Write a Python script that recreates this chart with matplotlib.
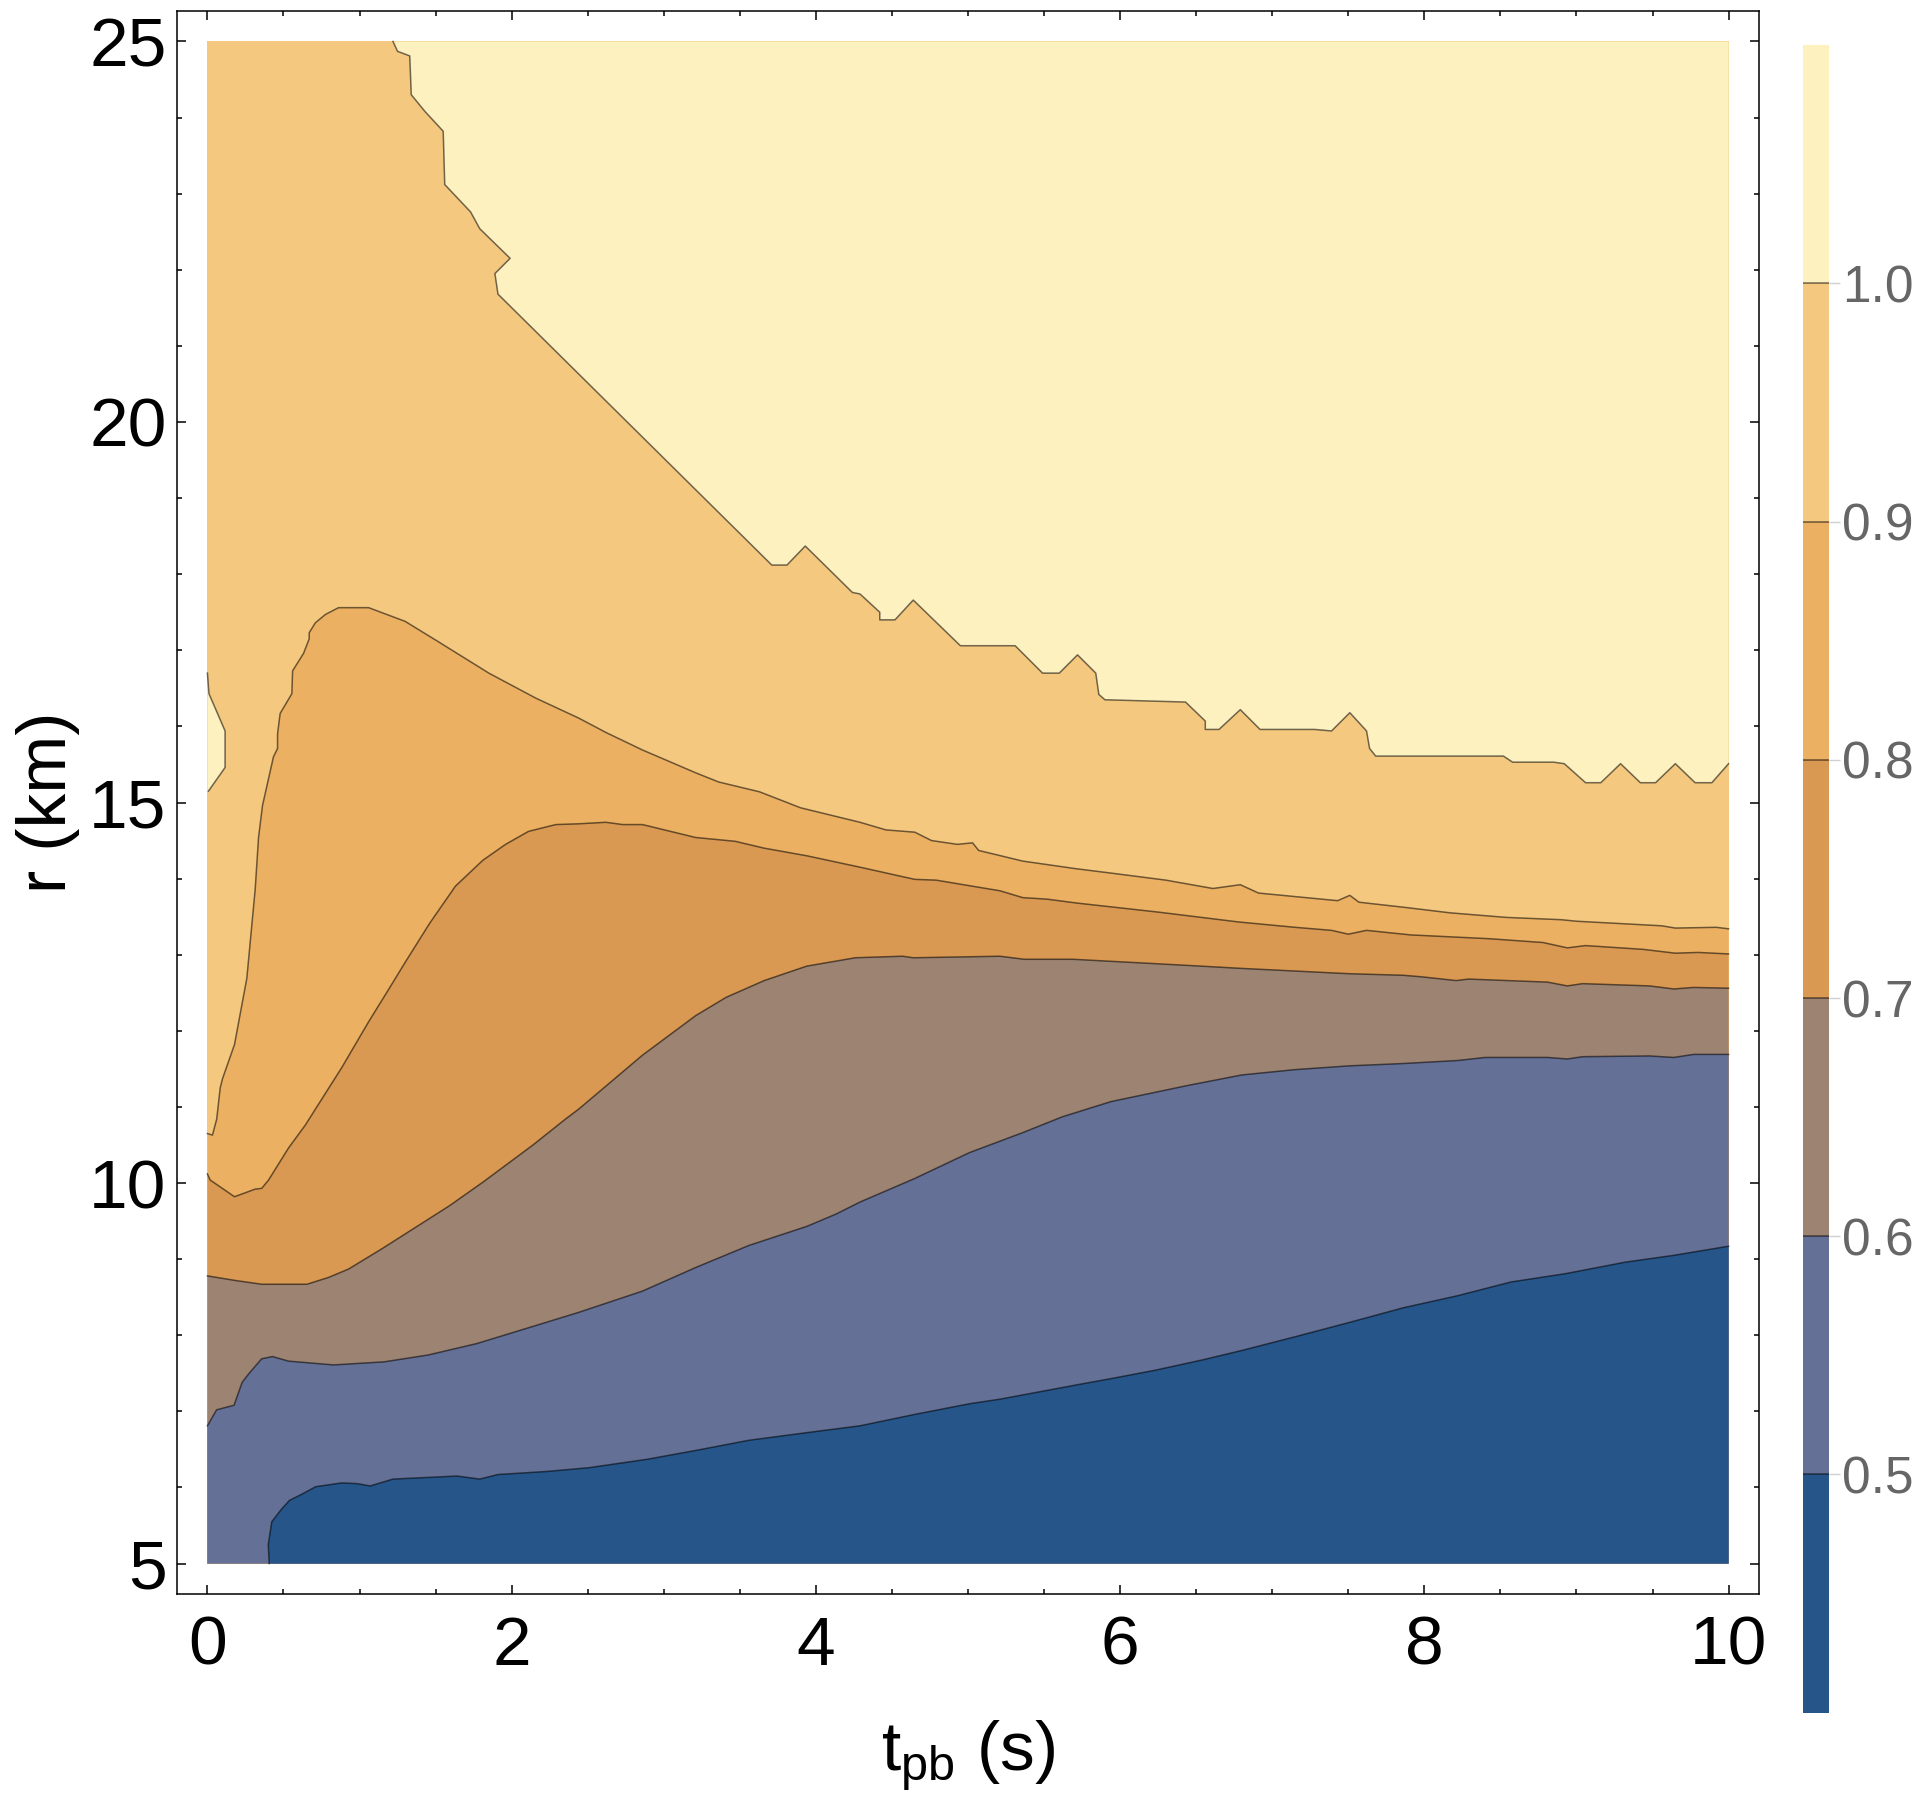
import matplotlib
matplotlib.use('Agg')
import matplotlib.pyplot as plt
from matplotlib.colors import ListedColormap, BoundaryNorm
from matplotlib.cm import ScalarMappable

plt.rcParams['font.family'] = ['Liberation Sans', 'DejaVu Sans']
plt.rcParams['mathtext.fontset'] = 'custom'
plt.rcParams['mathtext.rm'] = 'Liberation Sans'

# contour levels and band colours (lowest band first)
levels = [0.4, 0.5, 0.6, 0.7, 0.8, 0.9, 1.0, 1.1]
band_colors = ['#255589', '#647096', '#9d8372', '#d99952',
               '#ecb062', '#f5c87f', '#fdf1c0']

# contour lines: t_pb (s), r (km)
t_10 = [1.22, 1.25, 1.33, 1.34, 1.43, 1.55, 1.56, 1.73, 1.79, 1.99, 1.89, 1.91,
        3.71, 3.81, 3.93, 4.24, 4.29, 4.42, 4.42, 4.52, 4.64, 4.95, 5.31, 5.49,
        5.60, 5.72, 5.84, 5.86, 5.90, 6.43, 6.56, 6.56, 6.65, 6.79, 6.92, 7.28,
        7.39, 7.51, 7.62, 7.64, 7.68, 8.52, 8.58, 8.85, 8.92, 9.06, 9.16, 9.29,
        9.42, 9.52, 9.65, 9.78, 9.89, 10.0]
r_10 = [25.0, 24.87, 24.81, 24.30, 24.08, 23.82, 23.12, 22.76, 22.54, 22.15, 21.95, 21.68,
        18.12, 18.12, 18.37, 17.76, 17.74, 17.50, 17.40, 17.40, 17.66, 17.06, 17.06, 16.70,
        16.70, 16.94, 16.70, 16.42, 16.35, 16.32, 16.07, 15.96, 15.96, 16.22, 15.96, 15.96,
        15.94, 16.18, 15.94, 15.71, 15.61, 15.61, 15.53, 15.53, 15.51, 15.26, 15.26, 15.51,
        15.26, 15.26, 15.51, 15.26, 15.26, 15.51]

t_10_pocket = [0.0, 0.01, 0.116, 0.116, 0.007, 0.0]
r_10_pocket = [16.70, 16.43, 15.94, 15.46, 15.15, 15.15]

t_09 = [0.0, 0.033, 0.061, 0.084, 0.099, 0.178, 0.259, 0.314, 0.336, 0.362, 0.434, 0.461,
        0.461, 0.478, 0.555, 0.56, 0.632, 0.669, 0.669, 0.709, 0.775, 0.862, 1.06, 1.30,
        1.52, 1.85, 2.16, 2.44, 2.62, 2.86, 3.21, 3.36, 3.63, 3.90, 4.29, 4.46, 4.65,
        4.76, 4.93, 5.03, 5.07, 5.36, 5.71, 5.95, 6.30, 6.61, 6.79, 6.91, 7.43, 7.51,
        7.57, 7.88, 8.17, 8.54, 8.90, 9.0, 9.56, 9.65, 9.92, 10.0]
r_09 = [10.65, 10.63, 10.84, 11.25, 11.37, 11.82, 12.69, 13.86, 14.54, 14.96, 15.60, 15.71,
        15.90, 16.17, 16.43, 16.73, 16.96, 17.15, 17.23, 17.36, 17.47, 17.56, 17.56, 17.38,
        17.11, 16.70, 16.37, 16.11, 15.92, 15.69, 15.39, 15.27, 15.14, 14.93, 14.74, 14.64, 14.61,
        14.50, 14.45, 14.47, 14.37, 14.23, 14.13, 14.07, 13.98, 13.87, 13.92, 13.81, 13.71, 13.78,
        13.69, 13.62, 13.55, 13.49, 13.46, 13.44, 13.38, 13.35, 13.36, 13.34]

t_08 = [0.0, 0.018, 0.178, 0.314, 0.357, 0.402, 0.533, 0.643, 0.884, 1.06, 1.19, 1.30,
        1.46, 1.63, 1.81, 1.96, 2.11, 2.29, 2.44, 2.62, 2.73, 2.86, 3.21, 3.47, 3.66,
        3.94, 4.29, 4.65, 4.79, 5.21, 5.36, 5.52, 5.71, 6.25, 6.78, 7.15, 7.39, 7.50,
        7.62, 7.91, 8.43, 8.78, 8.94, 9.06, 9.44, 9.65, 9.80, 10.0]
r_08 = [10.12, 10.04, 9.82, 9.92, 9.93, 10.04, 10.46, 10.76, 11.52, 12.12, 12.54, 12.90,
        13.41, 13.90, 14.24, 14.45, 14.62, 14.71, 14.72, 14.74, 14.71, 14.71, 14.54, 14.49, 14.40,
        14.30, 14.15, 13.99, 13.98, 13.84, 13.75, 13.73, 13.68, 13.56, 13.43, 13.36, 13.32, 13.27,
        13.32, 13.26, 13.21, 13.16, 13.09, 13.12, 13.07, 13.02, 13.03, 13.01]

t_07 = [0.0, 0.182, 0.357, 0.654, 0.797, 0.928, 1.15, 1.37, 1.59, 1.81, 2.14, 2.36,
        2.44, 2.86, 3.21, 3.41, 3.66, 3.94, 4.26, 4.57, 4.64, 5.21, 5.37, 5.69, 6.44,
        6.80, 7.51, 7.86, 7.98, 8.21, 8.29, 8.81, 8.94, 9.04, 9.48, 9.64, 9.77, 10.0]
r_07 = [8.78, 8.72, 8.67, 8.67, 8.76, 8.87, 9.14, 9.42, 9.70, 10.01, 10.50, 10.85,
        10.97, 11.68, 12.20, 12.44, 12.66, 12.85, 12.96, 12.98, 12.96, 12.98, 12.94, 12.94, 12.86,
        12.82, 12.75, 12.73, 12.71, 12.66, 12.68, 12.64, 12.59, 12.62, 12.59, 12.55, 12.57, 12.56]

t_06 = [0.0, 0.06, 0.175, 0.228, 0.27, 0.356, 0.427, 0.533, 0.709, 0.83, 1.16, 1.45,
        1.77, 2.13, 2.44, 2.86, 3.21, 3.56, 3.94, 4.13, 4.29, 4.65, 5.01, 5.21, 5.37,
        5.62, 5.94, 6.44, 6.80, 7.15, 7.51, 7.86, 8.22, 8.40, 8.81, 8.94, 9.04, 9.48,
        9.64, 9.77, 10.0]
r_06 = [6.81, 7.02, 7.08, 7.38, 7.49, 7.69, 7.72, 7.66, 7.63, 7.61, 7.65, 7.74,
        7.89, 8.11, 8.30, 8.58, 8.89, 9.18, 9.43, 9.59, 9.75, 10.06, 10.40, 10.55, 10.67,
        10.87, 11.07, 11.28, 11.42, 11.49, 11.54, 11.57, 11.61, 11.65, 11.65, 11.63, 11.66, 11.67,
        11.65, 11.69, 11.69]

t_05 = [0.406, 0.40, 0.423, 0.481, 0.539, 0.619, 0.712, 0.884, 0.985, 1.07, 1.22, 1.43,
        1.64, 1.79, 1.91, 2.23, 2.51, 2.89, 3.22, 3.56, 3.94, 4.29, 4.65, 5.01, 5.21,
        5.72, 5.94, 6.23, 6.55, 6.80, 7.15, 7.51, 7.86, 8.22, 8.57, 8.93, 9.32, 9.64, 10.0]
r_05 = [5.0, 5.25, 5.55, 5.70, 5.83, 5.91, 6.01, 6.06, 6.05, 6.02, 6.11, 6.13,
        6.15, 6.11, 6.17, 6.21, 6.26, 6.37, 6.49, 6.62, 6.72, 6.81, 6.96, 7.10, 7.16,
        7.35, 7.43, 7.54, 7.68, 7.80, 7.98, 8.17, 8.36, 8.52, 8.70, 8.81, 8.96, 9.05, 9.17]

t_min, t_max = 0.0, 10.0
r_min, r_max = 5.0, 25.0

line_kw = dict(color='black', alpha=0.55, lw=1.1)

fig = plt.figure(figsize=(19.25, 17.94), dpi=100)
ax = fig.add_axes([0.09195, 0.11148, 0.82182, 0.88239])

# stack the bands: whole domain first, then each "below level" region on top
ax.fill([t_min, t_max, t_max, t_min], [r_min, r_min, r_max, r_max], color=band_colors[5], lw=0)
ax.fill(t_10 + [t_max], r_10 + [r_max], color=band_colors[6], lw=0)
ax.fill(t_10_pocket, r_10_pocket, color=band_colors[6], lw=0)
ax.fill(t_09 + [t_max, t_min], r_09 + [r_min, r_min], color=band_colors[4], lw=0)
ax.fill(t_08 + [t_max, t_min], r_08 + [r_min, r_min], color=band_colors[3], lw=0)
ax.fill(t_07 + [t_max, t_min], r_07 + [r_min, r_min], color=band_colors[2], lw=0)
ax.fill(t_06 + [t_max, t_min], r_06 + [r_min, r_min], color=band_colors[1], lw=0)
ax.fill(t_05 + [t_max], r_05 + [r_min], color=band_colors[0], lw=0)

for t, r in [(t_10, r_10), (t_10_pocket[:-1], r_10_pocket[:-1]), (t_09, r_09),
             (t_08, r_08), (t_07, r_07), (t_06, r_06), (t_05, r_05)]:
    ax.plot(t, r, **line_kw)

ax.set_xlim(-0.2, 10.2)
ax.set_ylim(4.6, 25.4)
ax.set_xticks([0, 2, 4, 6, 8, 10])
ax.set_xticks([x * 0.5 for x in range(21)], minor=True)
ax.set_yticks([5, 10, 15, 20, 25])
ax.set_yticks(range(5, 26), minor=True)
ax.tick_params(which='both', direction='in', top=True, right=True, width=1.1, labelsize=50)
ax.tick_params(which='major', length=6.2)
ax.tick_params(which='minor', length=3.6)
ax.tick_params(axis='x', pad=15)
ax.tick_params(axis='y', pad=7.5)
for s in ax.spines.values():
    s.set_linewidth(1.1)

fig.text(968 / 1925, 1 - 1770 / 1794, r'$\mathregular{t_{pb}}$ (s)', fontsize=50,
         ha='center', va='baseline')
fig.text(48.5 / 1925, 1 - 802.5 / 1794, 'r (km)', fontsize=50, rotation=90,
         ha='center', va='center')

# colour bar
cax = fig.add_axes([0.93662, 0.04532, 0.01351, 0.92943])
cmap = ListedColormap(band_colors)
norm = BoundaryNorm(levels, cmap.N)
cb = fig.colorbar(ScalarMappable(norm=norm, cmap=cmap), cax=cax, ticks=levels[1:-1])
cb.outline.set_visible(False)
cb.minorticks_off()
cb.ax.set_yticklabels(['%.1f' % v for v in levels[1:-1]])
cb.ax.tick_params(length=8, width=1, color='#d0d0d0', pad=1.5, labelsize=37, labelcolor='#666666')
for lv in levels[1:-1]:
    cax.axhline(lv, **line_kw)

fig.savefig('out.png', dpi=100)
